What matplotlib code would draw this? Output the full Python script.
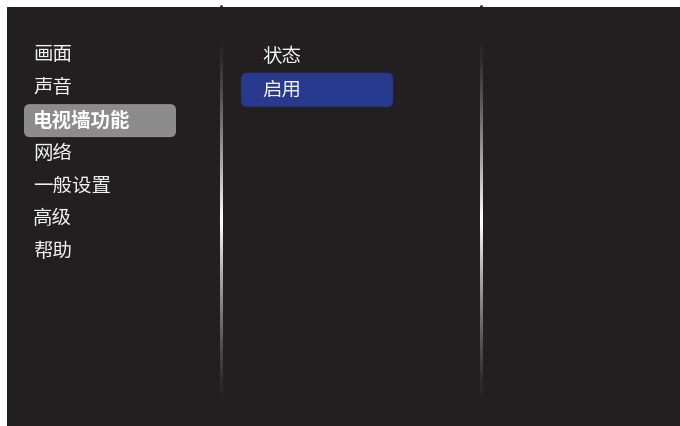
import numpy as np
import matplotlib.pyplot as plt
from matplotlib.patches import FancyBboxPatch, Rectangle

plt.rcParams['font.family'] = ['Noto Sans CJK SC', 'DejaVu Sans']

# Menu content
main_items = ["画面", "声音", "电视墙功能", "网络", "一般设置", "高级", "帮助"]
selected_main = "电视墙功能"
sub_items = ["状态", "启用"]
selected_sub = "启用"

bg = "#231f20"

fig = plt.figure(figsize=(6.8, 4.26), dpi=100)
ax = fig.add_axes([0, 0, 1, 1])
ax.set_xlim(0, 680)
ax.set_ylim(426, 0)
ax.axis("off")

# dark screen panel
ax.add_patch(Rectangle((7, 7), 673, 419, facecolor=bg, edgecolor="none"))

# small marks at the top edge
for x in [221, 481]:
    ax.plot([x, x], [4.5, 7], color="#231f20", lw=2, solid_capstyle="butt")

# column separators with brightness fading towards both ends
ys = np.linspace(40, 402, 300)
t = np.clip(1 - np.abs(ys - 220) / 182, 0, 1) ** 1.3
base = np.array([0x23, 0x1f, 0x20]) / 255
grad = base[None, :] * (1 - t[:, None]) + t[:, None]
grad = grad[:, None, :]
for x in [221, 481]:
    ax.imshow(grad, extent=[x - 1.2, x + 1.2, 402, 40], aspect="auto",
              interpolation="bilinear", zorder=2)
ax.set_xlim(0, 680)
ax.set_ylim(426, 0)

# main menu
row_h = 32.8
y0 = 55
for i, name in enumerate(main_items):
    y = y0 + i * row_h
    if name == selected_main:
        ax.add_patch(FancyBboxPatch((24, y - 16.5), 152, 33,
                                    boxstyle="round,pad=0,rounding_size=6",
                                    facecolor="#8c8c8c", edgecolor="none"))
        ax.text(33, y, name, color="white", fontsize=14, fontweight="bold",
                va="center", ha="left")
    else:
        ax.text(33, y, name, color="#f2f2f2", fontsize=14,
                va="center", ha="left")

# sub menu
sy0 = 57
for i, name in enumerate(sub_items):
    y = sy0 + i * row_h
    if name == selected_sub:
        ax.add_patch(FancyBboxPatch((241, y - 17), 152, 34,
                                    boxstyle="round,pad=0,rounding_size=6",
                                    facecolor="#283a8e", edgecolor="none"))
    ax.text(262, y, name, color="#f2f2f2", fontsize=14,
            va="center", ha="left")

fig.savefig("out.png", dpi=100, facecolor="white")
